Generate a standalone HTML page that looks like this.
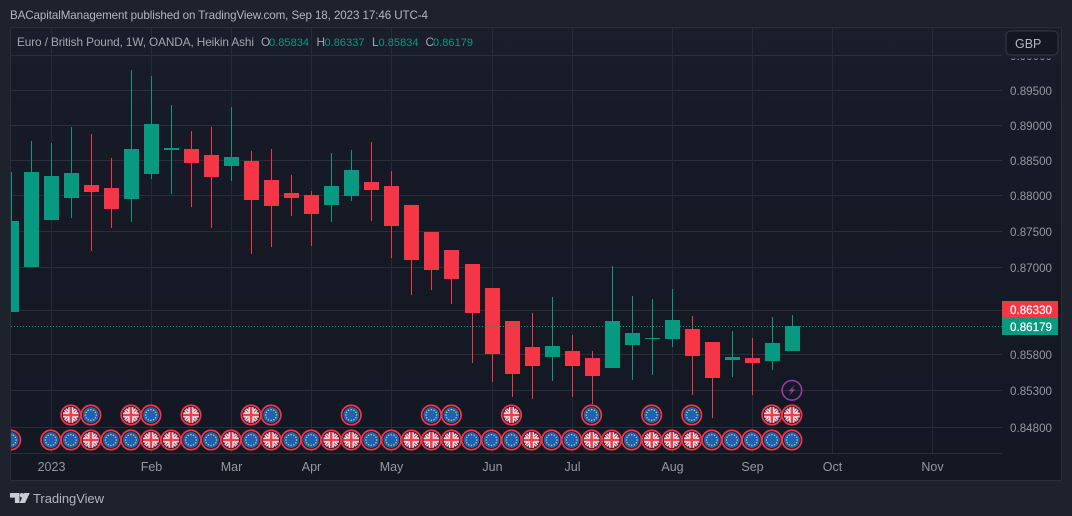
<!DOCTYPE html>
<html lang="en">
<head>
<meta charset="utf-8">
<title>Euro / British Pound Heikin Ashi chart</title>
<style>
html,body{margin:0;padding:0;background:#1e222d;width:1072px;height:516px;overflow:hidden}
svg{display:block;font-family:"Liberation Sans",sans-serif}
</style>
</head>
<body>
<svg id="chart" xmlns="http://www.w3.org/2000/svg" width="1072" height="516" viewBox="0 0 1072 516">
  <defs>
    <linearGradient id="paneBg" x1="0" y1="0" x2="0" y2="1">
      <stop offset="0" stop-color="#1a1e2a"/>
      <stop offset="0.25" stop-color="#161a26"/>
      <stop offset="1" stop-color="#141823"/>
    </linearGradient>
    <clipPath id="plotClip"><rect x="11" y="28" width="991" height="425"/></clipPath>
    <clipPath id="discClip"><circle cx="0" cy="0" r="8"/></clipPath>
    <symbol id="flag-eu" overflow="visible" viewBox="-11 -11 22 22" width="22" height="22">
      <circle r="9.7" fill="#10141f" stroke="#f23645" stroke-width="1.8"/>
      <circle r="8" fill="#1a62ba"/>
      <g fill="#e6c53a">
        <circle cx="0" cy="-5.4" r=".75"/><circle cx="2.7" cy="-4.7" r=".75"/><circle cx="4.7" cy="-2.7" r=".75"/>
        <circle cx="5.4" cy="0" r=".75"/><circle cx="4.7" cy="2.7" r=".75"/><circle cx="2.7" cy="4.7" r=".75"/>
        <circle cx="0" cy="5.4" r=".75"/><circle cx="-2.7" cy="4.7" r=".75"/><circle cx="-4.7" cy="2.7" r=".75"/>
        <circle cx="-5.4" cy="0" r=".75"/><circle cx="-4.7" cy="-2.7" r=".75"/><circle cx="-2.7" cy="-4.7" r=".75"/>
      </g>
    </symbol>
    <symbol id="flag-uk" overflow="visible" viewBox="-11 -11 22 22" width="22" height="22">
      <circle r="9.7" fill="#10141f" stroke="#f23645" stroke-width="1.8"/>
      <g clip-path="url(#discClip)">
        <rect x="-8" y="-8" width="16" height="16" fill="#2c4f9e"/>
        <path d="M-8-8L8 8M8-8L-8 8" stroke="#f4f1f1" stroke-width="3.4"/>
        <path d="M-8-8L8 8M8-8L-8 8" stroke="#ef4a58" stroke-width="1.3"/>
        <path d="M0-8V8M-8 0H8" stroke="#f7f4f4" stroke-width="5"/>
        <path d="M0-8V8M-8 0H8" stroke="#ee3f4e" stroke-width="2.6"/>
      </g>
    </symbol>
  </defs>

  <rect x="0" y="0" width="1072" height="516" fill="#1e222d"/>
  <text x="10" y="19" font-size="11.6" fill="#b2b5be" textLength="418" lengthAdjust="spacing">BACapitalManagement published on TradingView.com, Sep 18, 2023 17:46 UTC-4</text>
  <rect x="10.5" y="27.5" width="1051" height="453" fill="url(#paneBg)" stroke="#2a2e39"/>

  <g id="grid"></g>
  <g id="candles" clip-path="url(#plotClip)"></g>
  <g id="events" clip-path="url(#plotClip)"></g>
  <g id="priceLine"></g>
  <g id="xAxis"></g>
  <g id="yAxis"></g>

  <g font-size="11">
    <text x="17" y="46" font-size="11.8" fill="#a3a6af" textLength="237" lengthAdjust="spacing">Euro / British Pound, 1W, OANDA, Heikin Ashi</text>
    <text x="261" y="46" font-size="11.8" fill="#a3a6af">O</text>
    <text x="269" y="46" fill="#089981" textLength="40" lengthAdjust="spacing">0.85834</text>
    <text x="316.5" y="46" font-size="11.8" fill="#a3a6af">H</text>
    <text x="324.5" y="46" fill="#089981" textLength="40" lengthAdjust="spacing">0.86337</text>
    <text x="372" y="46" font-size="11.8" fill="#a3a6af">L</text>
    <text x="378.5" y="46" fill="#089981" textLength="40" lengthAdjust="spacing">0.85834</text>
    <text x="425.5" y="46" font-size="11.8" fill="#a3a6af">C</text>
    <text x="433" y="46" fill="#089981" textLength="40" lengthAdjust="spacing">0.86179</text>
  </g>

  <rect x="1003" y="28" width="58" height="30.5" fill="#1a1e2a"/>
  <g>
    <rect x="1006" y="31" width="52" height="24" rx="4.5" fill="#131722" stroke="#363a45"/>
    <text x="1015" y="48" font-size="12.5" fill="#b2b5be">GBP</text>
  </g>

  <g>
    <path fill="#c9ccd4" d="M10 493h9.5v10h-4.6v-5.4H10zM24.2 493h5.6L25 503h-5.4z"/>
    <circle cx="22" cy="495.3" r="2.3" fill="#c9ccd4"/>
    <text x="33" y="503" font-size="13" fill="#b2b5be" textLength="71" lengthAdjust="spacing">TradingView</text>
  </g>

<script>
// Weekly Heikin Ashi candles, oldest first
const opens  = [.8638,.87004,.87661,.87969,.88154,.88111,.87955,.88309,.88649,.88663,.88578,.88422,.88492,.88224,.88041,.88013,.87871,.87997,.88196,.8814,.87871,.87494,.8724,.87046,.86713,.86255,.85897,.8576,.85843,.85747,.8561,.85925,.86007,.86007,.86145,.85966,.85719,.85747,.85705,.85834];
const highs  = [.88337,.88777,.88749,.88976,.88876,.88536,.89791,.89705,.8929,.88919,.88976,.89262,.88635,.88663,.88295,.88069,.88607,.88649,.88763,.88351,.87871,.87494,.8724,.87046,.86713,.86255,.86366,.86588,.86062,.85843,.87018,.86601,.8656,.86699,.86324,.85966,.86117,.86021,.8631,.86337];
const lows   = [.8638,.87004,.87661,.87689,.87226,.87549,.87633,.88238,.88027,.87843,.87549,.8821,.87186,.87284,.87717,.87298,.87633,.87927,.87647,.8713,.86615,.86685,.8649,.85678,.85419,.85214,.85186,.85433,.85214,.85118,.8561,.85447,.85514,.85897,.85241,.84926,.85488,.85241,.85582,.85834];
const closes = [.87647,.88337,.88281,.88323,.88055,.87815,.88663,.89019,.88678,.88464,.88266,.8855,.87941,.87857,.87969,.87745,.8814,.88365,.88083,.87577,.87102,.86963,.86838,.86366,.85801,.85527,.85637,.85911,.85637,.855,.86255,.8609,.86021,.86269,.85774,.85474,.8576,.85678,.85952,.86179];

const priceTicks = [.9,.895,.89,.885,.88,.875,.87,.864,.858,.853,.848];
const monthLabels = ['2023','Feb','Mar','Apr','May','Jun','Jul','Aug','Sep','Oct','Nov'];
const monthBars = [2,7,11,15,19,24,28,33,37,41,46];

const lastPrice = 0.86179;
const prevPrice = 0.8633;

// Economic events by bar index; E = euro area, U = United Kingdom
const upperEventBars = [3,4,6,7,9,12,13,17,21,22,25,29,32,34,38,39];
const upperEventFlags = ['U','E','U','E','U','U','E','E','E','E','U','E','E','E','U','U'];
const lowerEventBars = [0,2,3,4,5,6,7,8,9,10,11,12,13,14,15,16,17,18,19,20,21,22,23,24,25,26,27,28,29,30,31,32,33,34,35,36,37,38,39];
const lowerEventFlags = ['E','E','E','U','E','E','U','U','E','E','U','E','U','E','E','U','U','E','E','U','U','U','E','E','E','U','E','E','U','U','E','U','U','U','E','E','E','E','E'];
const boltBar = 39;

const NS = 'http://www.w3.org/2000/svg';
const GREEN = '#089981', RED = '#f53647';
function xOf(i){ return 11.33 + 20.03 * i; }
function yOf(p){ return 90.3 + 6248 * Math.log(0.895 / p); }
function make(tag, attrs, parent){
  const el = document.createElementNS(NS, tag);
  for (const k in attrs) el.setAttribute(k, attrs[k]);
  parent.appendChild(el);
  return el;
}
const gridG = document.getElementById('grid');
const candleG = document.getElementById('candles');
const eventG = document.getElementById('events');
const lineG = document.getElementById('priceLine');
const xG = document.getElementById('xAxis');
const yG = document.getElementById('yAxis');

// horizontal grid and price tick labels
priceTicks.forEach(function(p){
  const y = Math.floor(yOf(p)) + 0.5;
  const g = make('line', {x1:11, x2:1002, y1:y, y2:y, stroke:'#2a2e39'}, gridG);
  
  
  const t = make('text', {x:1010, y:y + 4.5, 'font-size':11.6, fill:'#9598a1', textLength:42, lengthAdjust:'spacing'}, yG);
  
  
  t.textContent = p.toFixed(5);
});

// vertical grid and month labels
monthBars.forEach(function(b, i){
  const x = Math.floor(xOf(b)) + 0.5;
  const g = make('line', {x1:x, x2:x, y1:28, y2:453, stroke:'#262a35'}, gridG);
  
  
  const t = make('text', {x:x, y:471, 'font-size':12.5, fill:'#9598a1', 'text-anchor':'middle'}, xG);
  
  
  t.textContent = monthLabels[i];
});
const axisRule = make('line', {x1:11, x2:1002, y1:453.5, y2:453.5, stroke:'#2a2e39'}, xG);



// event badges
function drawEvents(bars, flags, cy){
  bars.forEach(function(b, i){
    const cx = xOf(b) - 0.6;
    const u = make('use', {href: flags[i] === 'U' ? '#flag-uk' : '#flag-eu', x:cx - 11, y:cy - 11, width:22, height:22}, eventG);
    
    
  });
}
drawEvents(upperEventBars, upperEventFlags, 415);
drawEvents(lowerEventBars, lowerEventFlags, 440);

const boltRing = make('circle', {cx:xOf(boltBar) - 0.6, cy:390.3, r:9.8, fill:'none', stroke:'#9c3fae', 'stroke-width':1.5}, eventG);


const bolt = make('path', {d:'M3.2-5.6L-3.4 1H-.2L-3.2 5.6L3.4-.9H.2Z', fill:'#9c3fae', transform:'translate(' + (xOf(boltBar) - 0.6) + ' 390.3)'}, eventG);



// candles
function pixelRow(p){ return Math.round(yOf(p) - 0.3); }
opens.forEach(function(o, i){
  const c = closes[i];
  const col = c >= o ? GREEN : RED;
  const cx = Math.floor(xOf(i));
  const wickTop = pixelRow(highs[i]);
  const wickBottom = pixelRow(lows[i]);
  const bodyTop = pixelRow(Math.max(o, c));
  const bodyBottom = pixelRow(Math.min(o, c));
  const w = make('rect', {x:cx, y:wickTop, width:1, height:Math.max(wickBottom - wickTop, 1), fill:col}, candleG);
  
  
  const b = make('rect', {x:cx - 7, y:bodyTop, width:15, height:Math.max(bodyBottom - bodyTop, 1), fill:col}, candleG);
  
  
});

// last price line and tags
const lastY = yOf(lastPrice);
const dotted = make('line', {x1:11, x2:1002, y1:Math.floor(lastY) + 0.5, y2:Math.floor(lastY) + 0.5, stroke:GREEN, 'stroke-dasharray':'1 2'}, lineG);



const tagH = 17;
const lastTop = Math.floor(lastY - tagH / 2);
const prevTop = Math.min(Math.round(yOf(prevPrice) - tagH / 2), lastTop - tagH);
const prevBox = make('rect', {x:1002, y:prevTop, width:56, height:tagH, fill:RED}, yG);


const prevText = make('text', {x:1010, y:prevTop + 13, 'font-size':11.6, fill:'#ffffff', stroke:'#ffffff', 'stroke-width':0.2, textLength:42, lengthAdjust:'spacing'}, yG);


prevText.textContent = prevPrice.toFixed(5);
const lastBox = make('rect', {x:1002, y:lastTop, width:56, height:tagH, fill:GREEN}, yG);


const lastText = make('text', {x:1010, y:lastTop + 13, 'font-size':11.6, fill:'#ffffff', stroke:'#ffffff', 'stroke-width':0.2, textLength:42, lengthAdjust:'spacing'}, yG);


lastText.textContent = lastPrice.toFixed(5);
</script>
</svg>
</body>
</html>
